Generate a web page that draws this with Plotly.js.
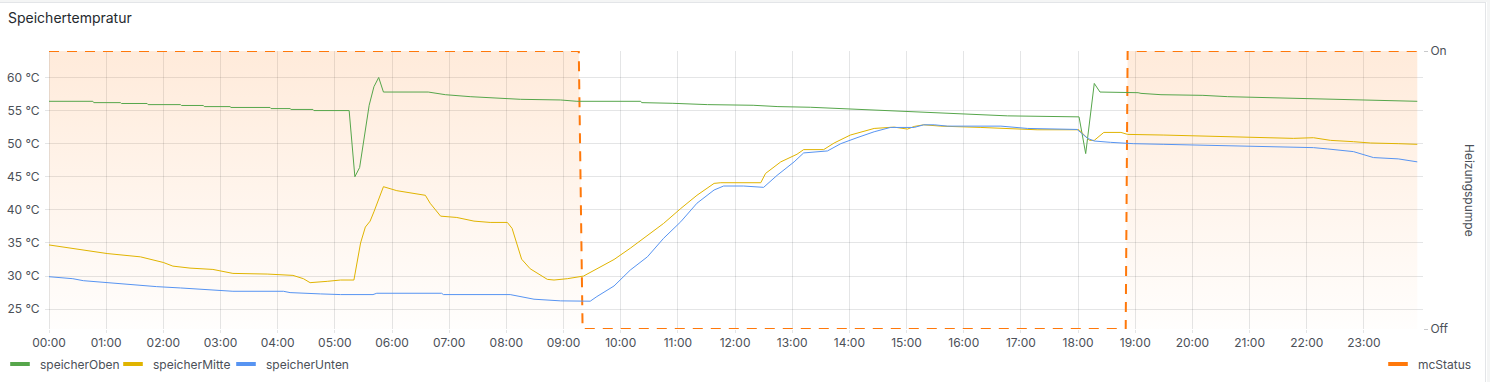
<!DOCTYPE html>
<html>
<head>
<meta charset="utf-8">
<script src="https://cdn.plot.ly/plotly-3.0.1.min.js"></script>
<style>
html,body{margin:0;padding:0;background:#ffffff;}
#wrap{position:relative;width:1490px;height:382px;overflow:hidden;}
#chart{width:1490px;height:382px;}
#topstrip{position:absolute;left:0;top:0;width:1490px;height:2px;background:#f4f5f5;pointer-events:none;}
#frame{position:absolute;left:-2px;top:2px;width:1487px;height:400px;border-top:1px solid #e3e5e8;border-right:1px solid #e3e5e8;pointer-events:none;}
#rightstrip{position:absolute;left:1487px;top:0;width:3px;height:382px;background:#f4f5f5;pointer-events:none;}
</style>
</head>
<body>
<div id="wrap"><div id="chart"></div><div id="topstrip"></div><div id="rightstrip"></div><div id="frame"></div></div>
<script>
const DAY = '2024-01-01 ';

const obenTime = ['00:00','00:46','00:47','01:15','01:16','01:43','01:44','02:18','02:19','02:42','02:43','03:10','03:11','03:52','03:53','04:13','04:14','04:37','04:38','05:15','05:21','05:26','05:36','05:41','05:46','05:51','06:38','06:56','07:22','07:54','08:15','08:57','09:14','10:21','10:22','10:54','11:31','12:19','12:45','13:19','14:09','14:43','15:25','15:46','16:04','16:28','16:46','18:01','18:08','18:17','18:23','19:03','19:06','19:27','20:11','20:37','21:04','22:04','22:31','23:21','23:56'];
const obenTemp = [56.4,56.4,56.2,56.2,56.07,56.07,55.9,55.9,55.77,55.77,55.6,55.6,55.47,55.47,55.3,55.3,55.17,55.17,55.0,55.0,45.0,46.4,55.8,58.6,60.0,57.8,57.8,57.4,57.1,56.8,56.7,56.6,56.4,56.4,56.2,56.1,55.9,55.8,55.6,55.5,55.2,55.0,54.8,54.65,54.55,54.4,54.2,54.05,48.5,59.1,57.8,57.7,57.6,57.4,57.3,57.1,57.0,56.8,56.7,56.5,56.4];

const mitteTime = ['00:00','00:25','01:01','01:36','02:00','02:10','02:28','02:52','03:13','03:49','04:16','04:27','04:34','04:52','05:06','05:20','05:27','05:32','05:37','05:41','05:51','06:05','06:26','06:35','06:40','06:51','07:08','07:26','07:43','08:01','08:06','08:11','08:16','08:25','08:43','08:50','09:04','09:21','09:35','09:53','10:10','10:28','10:45','11:03','11:20','11:38','11:45','12:27','12:32','12:48','13:05','13:12','13:33','13:44','14:01','14:26','14:47','15:01','15:08','15:18','15:36','16:18','16:39','17:17','18:01','18:12','18:17','18:27','18:45','18:52','19:30','20:30','21:01','21:46','22:07','22:25','22:49','23:07','23:36','23:56'];
const mitteTemp = [34.7,34.2,33.4,32.9,32.05,31.5,31.2,31.0,30.4,30.3,30.1,29.6,29.0,29.2,29.4,29.4,35.0,37.4,38.3,39.7,43.5,42.9,42.4,42.2,41.0,39.05,38.85,38.3,38.1,38.1,37.2,34.9,32.55,31.1,29.5,29.4,29.6,30.0,31.1,32.5,34.2,36.2,37.95,40.2,42.2,44.0,44.1,44.1,45.5,47.25,48.4,49.1,49.1,50.1,51.3,52.3,52.5,52.2,52.6,52.85,52.65,52.45,52.3,52.1,52.1,50.5,50.5,51.7,51.7,51.4,51.3,51.1,50.9,50.8,50.9,50.5,50.3,50.1,50.0,49.9];

const untenTime = ['00:00','00:25','00:36','01:01','01:22','01:53','02:18','02:39','03:03','03:13','04:06','04:13','04:45','05:06','05:40','05:44','06:52','06:54','08:04','08:29','08:57','09:28','09:35','09:53','10:10','10:28','10:45','11:03','11:20','11:38','11:48','12:09','12:30','12:44','13:02','13:12','13:37','13:51','14:08','14:26','14:43','14:57','15:08','15:18','15:29','15:43','16:39','17:07','17:59','18:10','18:17','18:34','18:58','19:30','20:27','20:58','21:36','22:07','22:22','22:49','23:10','23:36','23:56'];
const untenTemp = [29.9,29.6,29.3,29.0,28.8,28.4,28.2,28.0,27.8,27.7,27.7,27.5,27.3,27.2,27.2,27.4,27.4,27.2,27.2,26.5,26.25,26.2,26.9,28.5,30.9,32.9,35.7,38.2,41.0,43.0,43.6,43.6,43.4,45.2,47.25,48.6,48.9,50.0,50.9,51.8,52.45,52.5,52.45,52.85,52.85,52.65,52.65,52.3,52.15,50.8,50.4,50.2,50.0,49.9,49.7,49.6,49.4,49.4,49.2,48.8,47.9,47.7,47.25];

const statusTime = ['00:00','09:16','09:20','18:50','18:52','23:56'];
const statusValue = [1,1,0,0,1,1];

const statusLabels = ['Off','On'];
const tempTicks = [25,30,35,40,45,50,55,60];
const tempTickLabels = ['25 °C','30 °C','35 °C','40 °C','45 °C','50 °C','55 °C','60 °C'];
const hourTicks = ['00:00','01:00','02:00','03:00','04:00','05:00','06:00','07:00','08:00','09:00','10:00','11:00','12:00','13:00','14:00','15:00','16:00','17:00','18:00','19:00','20:00','21:00','22:00','23:00'];

const seriesNames = ['speicherOben','speicherMitte','speicherUnten','mcStatus'];
const colors = {speicherOben:'#56A64B', speicherMitte:'#E0B400', speicherUnten:'#5794F2', mcStatus:'#FF780A'};

const ts = a => a.map(t => DAY + t);
const FONT = 'Inter, "Open Sans", sans-serif';
const GRID = 'rgba(36,41,46,0.12)';
const TXT = '#4b5058';

const traces = [
  {name:'mcStatus', x:ts(statusTime), y:statusValue, yaxis:'y', mode:'lines',
   line:{color:colors.mcStatus, width:2, dash:'10px,8px'}, fill:'tozeroy',
   fillgradient:{type:'vertical', colorscale:[[0,'rgba(255,120,10,0.01)'],[1,'rgba(255,120,10,0.15)']]},
   showlegend:false, hoverinfo:'skip'},
  {name:'speicherOben', x:ts(obenTime), y:obenTemp, yaxis:'y2', mode:'lines', line:{color:colors.speicherOben, width:1}, showlegend:false},
  {name:'speicherMitte', x:ts(mitteTime), y:mitteTemp, yaxis:'y2', mode:'lines', line:{color:colors.speicherMitte, width:1}, showlegend:false},
  {name:'speicherUnten', x:ts(untenTime), y:untenTemp, yaxis:'y2', mode:'lines', line:{color:colors.speicherUnten, width:1}, showlegend:false}
];
// legend entries
seriesNames.forEach(n => {
  traces.push({name:n, x:[null], y:[null], yaxis:'y2', mode:'markers', showlegend:true,
    legend: n === 'mcStatus' ? 'legend2' : 'legend',
    legendwidth: n === 'speicherUnten' ? 110 : undefined,
    marker:{symbol:'line-ew-open', size:14, color:colors[n], line:{width:4, color:colors[n]}}});
});

const layout = {
  width:1490, height:382,
  margin:{l:45, r:67, t:51, b:53, pad:0},
  paper_bgcolor:'#ffffff', plot_bgcolor:'rgba(0,0,0,0)',
  font:{family:FONT, size:12, color:TXT},
  title:{text:'Speichertempratur', xref:'container', yref:'container', x:8/1490, xanchor:'left', y:1-18/382, yanchor:'middle',
    font:{family:FONT, size:14, color:'#24292e', weight:'normal'}},
  xaxis:{type:'date', range:['2023-12-31 23:55:48', '2024-01-02 00:02'],
    tickmode:'array', tickvals:ts(hourTicks), ticktext:hourTicks, showgrid:true, gridcolor:GRID, gridwidth:1, zeroline:false, showline:false,
    ticks:'outside', ticklen:3, tickcolor:GRID, tickfont:{family:FONT, size:12, color:TXT}},
  yaxis:{side:'right', range:[0,1], tickvals:[0,1], ticktext:statusLabels, showgrid:false, zeroline:false, showline:false,
    ticks:'outside', ticklen:4, tickcolor:'rgba(36,41,46,0.25)', tickfont:{family:FONT, size:12, color:TXT}},
  yaxis2:{overlaying:'y', side:'left', range:[22,64], tickmode:'array', tickvals:tempTicks, ticktext:tempTickLabels, showgrid:true, gridcolor:GRID,
    zeroline:false, showline:false, ticks:'outside', ticklen:2, tickcolor:'rgba(0,0,0,0)', tickfont:{family:FONT, size:12, color:TXT}},
  legend:{orientation:'h', xref:'container', yref:'container', x:-2/1490, y:1-364/382, xanchor:'left', yanchor:'middle',
    entrywidth:68, entrywidthmode:'pixels', itemwidth:30, bgcolor:'rgba(0,0,0,0)', font:{family:FONT, size:12, color:TXT}},
  legend2:{orientation:'h', xref:'container', yref:'container', x:1378/1490, y:1-364/382, xanchor:'left', yanchor:'middle',
    itemwidth:30, bgcolor:'rgba(0,0,0,0)', font:{family:FONT, size:12, color:TXT}},
  annotations:[{text:'Heizungspumpe', xref:'paper', yref:'paper', x:(1470-45)/1378, y:0.5, xanchor:'center', yanchor:'middle',
    textangle:90, showarrow:false, font:{family:FONT, size:12, color:TXT}}]
};

Plotly.newPlot('chart', traces, layout, {displayModeBar:false, staticPlot:true});
</script>
</body>
</html>
